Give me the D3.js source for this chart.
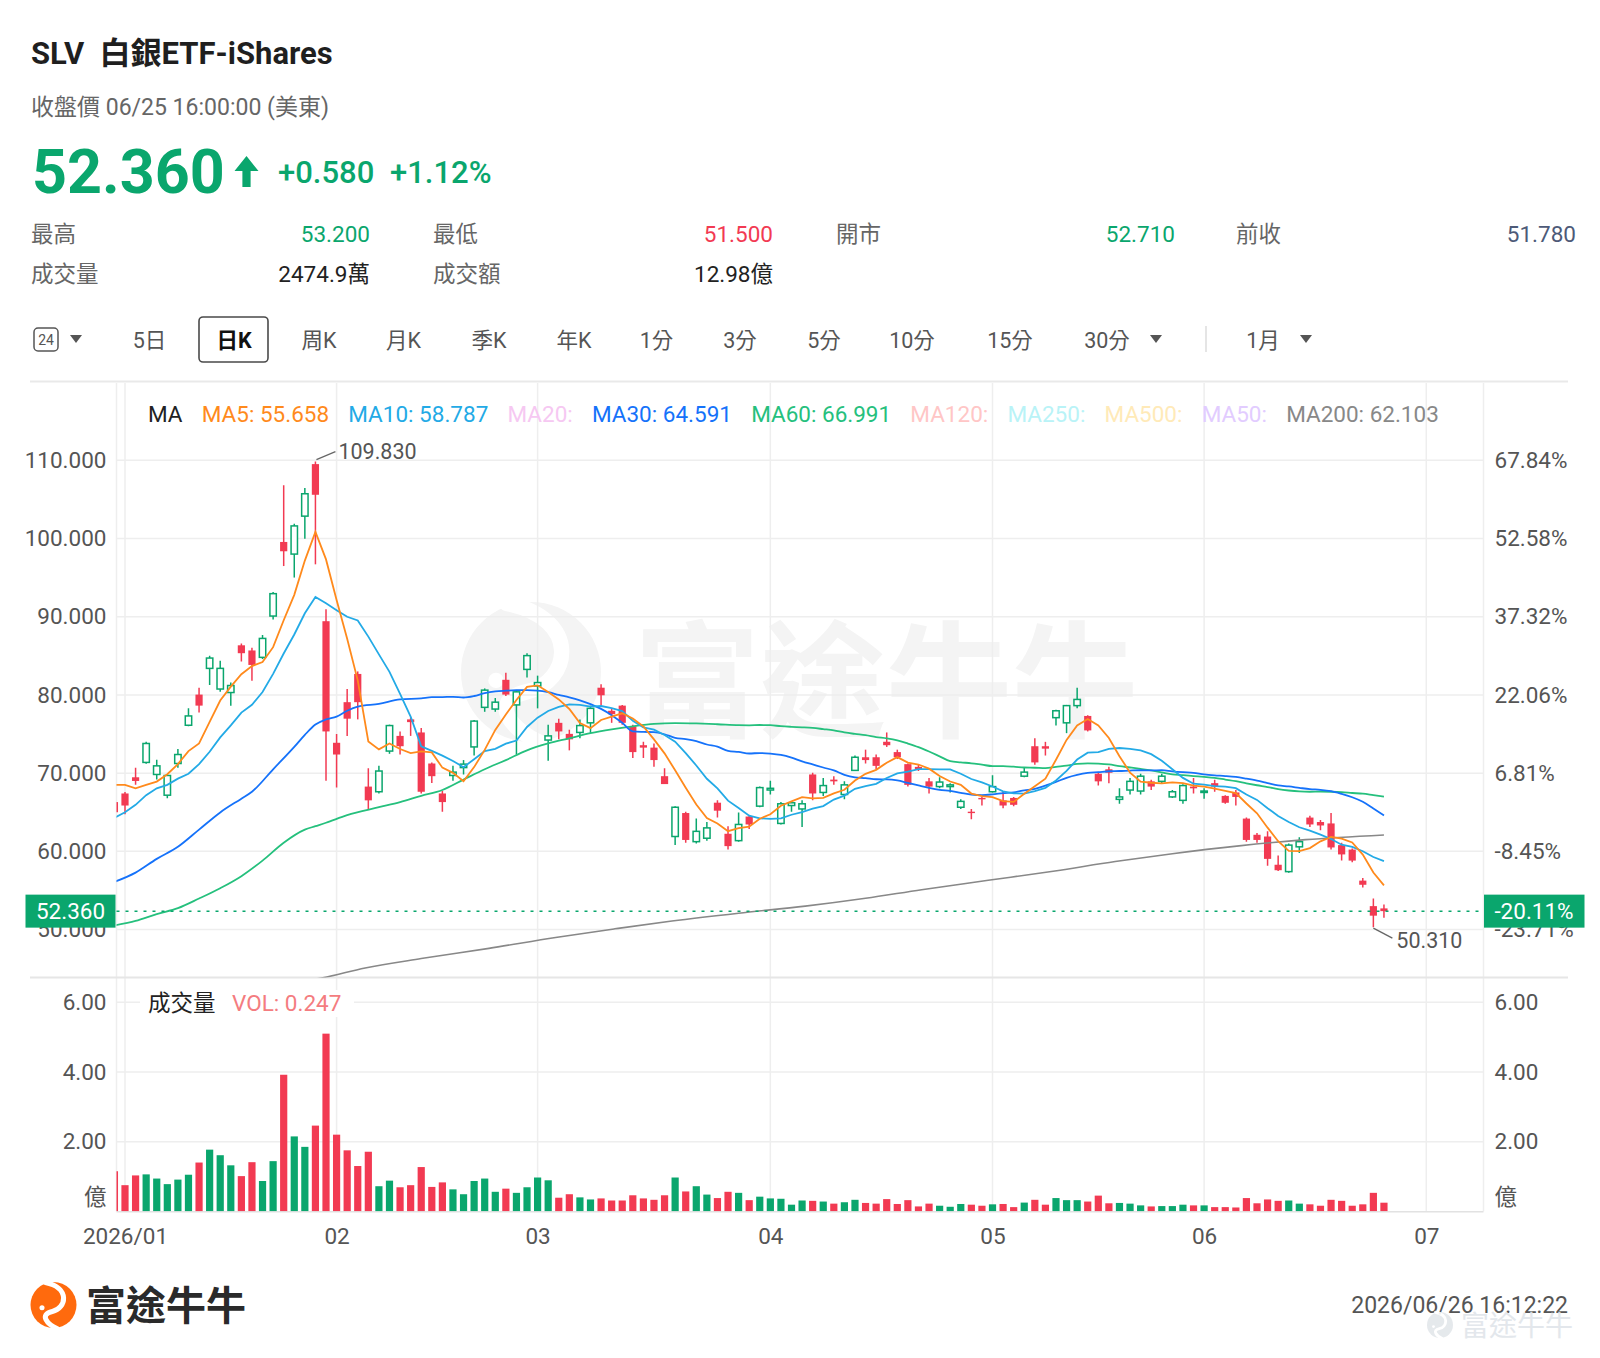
<!DOCTYPE html>
<html lang="zh-Hant"><head><meta charset="utf-8"><title>SLV 白銀ETF-iShares</title>
<script src="https://cdn.jsdelivr.net/npm/d3@7/dist/d3.min.js"></script>
<style>html,body{margin:0;padding:0;background:#fff}svg{display:block}</style>
</head><body>
<svg id="chart" width="1600" height="1358" xmlns="http://www.w3.org/2000/svg"></svg>
<script>
// ---------------- DATA ----------------
const firstIndex = -1; // first (clipped) candle is the last session of 2025
const opens = [
 66.3, 67.4, 69.47, 71.37, 69.83, 67.18, 71.23, 76.12, 80.04, 83.39,
 80.75, 80.3, 86.34, 85.68, 84.8, 90.08, 99.55, 98.0, 102.85, 109.5,
 89.42, 73.88, 79.07, 82.68, 68.28, 67.62, 72.82, 74.76, 76.87, 75.2,
 71.23, 67.4, 69.7, 70.71, 73.35, 78.41, 78.19, 81.93, 78.72, 83.26,
 81.14, 74.23, 76.43, 75.02, 75.2, 76.43, 80.92, 77.97, 78.63, 75.99,
 73.57, 73.26, 69.61, 61.9, 64.9, 61.24, 61.68, 66.22, 62.25, 61.37,
 64.45, 65.78, 67.84, 63.57, 65.86, 65.42, 69.83, 67.53, 69.17, 67.27,
 70.35, 72.03, 72.03, 74.01, 72.69, 71.15, 70.8, 68.95, 68.28, 68.28,
 65.64, 65.07, 66.83, 67.62, 66.52, 66.83, 69.61, 73.44, 73.44, 77.09,
 76.43, 78.63, 77.31, 69.92, 70.49, 66.65, 67.84, 67.71, 68.95, 68.95,
 66.96, 66.52, 68.28, 67.53, 68.72, 67.09, 67.53, 64.19, 62.12, 61.9,
 58.29, 57.41, 60.58, 64.32, 63.75, 63.57, 60.8, 60.23, 56.26, 53.0,
 52.71];
const highs = [
 66.6, 67.6, 70.7, 74.0, 71.7, 69.8, 73.1, 78.28, 80.9, 85.0,
 84.36, 81.58, 86.56, 86.03, 87.66, 93.16, 106.8, 101.88, 106.46, 109.83,
 90.96, 75.0, 80.75, 83.0, 70.62, 70.93, 76.2, 75.33, 77.09, 75.77,
 71.37, 67.71, 70.93, 71.67, 76.78, 80.83, 79.6, 82.82, 80.61, 85.33,
 82.46, 76.2, 76.96, 75.55, 76.87, 78.63, 81.36, 78.28, 78.72, 76.2,
 74.01, 73.79, 70.62, 65.78, 65.07, 64.19, 63.75, 66.52, 63.22, 64.98,
 64.63, 68.28, 69.03, 66.3, 66.3, 66.52, 70.05, 69.39, 69.61, 68.95,
 72.25, 73.0, 72.38, 75.2, 73.0, 71.23, 71.15, 69.39, 69.47, 68.72,
 66.65, 65.42, 66.96, 69.74, 67.62, 66.96, 70.71, 74.45, 74.0, 78.1,
 78.72, 80.92, 77.4, 70.05, 70.8, 68.06, 69.39, 69.92, 69.17, 69.92,
 67.84, 68.59, 69.39, 68.06, 69.17, 67.18, 67.84, 64.32, 62.34, 62.56,
 59.48, 61.02, 61.81, 64.54, 64.01, 64.9, 61.11, 60.36, 56.61, 53.97,
 53.2];
const lows = [
 64.6, 64.75, 68.5, 71.2, 69.2, 66.8, 70.7, 76.0, 77.75, 81.27,
 80.4, 78.6, 84.27, 81.8, 84.58, 89.64, 96.47, 95.0, 99.95, 96.69,
 69.03, 68.15, 74.76, 76.87, 65.3, 67.4, 72.47, 72.38, 74.76, 67.4,
 68.73, 65.07, 69.03, 69.83, 72.25, 77.84, 77.84, 79.86, 72.38, 82.24,
 78.28, 71.59, 74.32, 72.91, 74.45, 75.11, 78.63, 76.43, 76.2, 71.94,
 71.94, 70.8, 68.6, 60.8, 61.11, 61.02, 61.37, 64.32, 60.23, 61.24,
 62.87, 65.64, 67.27, 63.44, 65.07, 63.13, 66.52, 67.09, 68.5, 66.65,
 70.27, 71.23, 70.49, 73.35, 71.8, 68.28, 70.27, 67.4, 68.06, 67.53,
 65.42, 64.1, 65.86, 67.53, 65.51, 65.78, 69.47, 71.06, 72.25, 76.08,
 75.11, 78.28, 75.33, 68.41, 68.72, 66.08, 67.27, 67.27, 67.84, 68.72,
 66.83, 66.08, 67.4, 66.74, 67.62, 66.08, 65.86, 61.24, 61.11, 58.16,
 57.5, 57.28, 59.78, 63.13, 62.69, 60.23, 58.82, 58.6, 55.38, 50.31,
 51.5];
const closes = [
 65.0, 65.86, 69.0, 73.79, 70.93, 69.7, 72.38, 77.31, 78.63, 84.71,
 83.39, 81.2, 85.33, 83.83, 87.22, 92.94, 98.36, 101.6, 105.71, 105.58,
 75.33, 72.38, 76.96, 79.07, 66.52, 70.27, 76.08, 73.44, 76.52, 67.62,
 69.61, 66.3, 70.13, 71.15, 76.65, 80.61, 79.07, 80.04, 80.39, 85.02,
 81.58, 74.76, 75.33, 74.32, 76.08, 78.28, 79.95, 77.53, 76.43, 72.69,
 73.26, 71.67, 68.6, 65.64, 61.46, 62.56, 63.0, 65.2, 60.67, 63.44,
 63.44, 68.15, 68.06, 66.08, 66.21, 66.08, 67.4, 68.41, 68.95, 68.5,
 72.03, 71.67, 70.93, 73.57, 72.03, 68.5, 70.49, 68.28, 68.86, 68.5,
 66.39, 64.9, 66.65, 68.28, 65.86, 65.95, 70.13, 71.37, 73.13, 77.97,
 78.63, 79.42, 75.46, 68.95, 70.05, 66.96, 68.95, 69.61, 68.28, 69.61,
 67.62, 68.41, 68.06, 67.71, 68.28, 66.21, 66.96, 61.46, 61.46, 59.04,
 57.59, 60.8, 61.24, 63.44, 63.31, 60.5, 59.61, 58.82, 55.73, 51.78,
 52.36];
// volume in 億 (100 million shares)
const volumes = [
 1.15, 0.75, 1.03, 1.06, 0.94, 0.78, 0.91, 1.05, 1.40, 1.77,
 1.61, 1.32, 1.01, 1.41, 0.87, 1.44, 3.92, 2.15, 1.85, 2.46,
 5.10, 2.20, 1.75, 1.30, 1.71, 0.72, 0.88, 0.69, 0.75, 1.27,
 0.70, 0.83, 0.63, 0.49, 0.87, 0.94, 0.56, 0.65, 0.53, 0.69,
 0.97, 0.89, 0.39, 0.49, 0.40, 0.34, 0.37, 0.31, 0.31, 0.46,
 0.37, 0.33, 0.46, 0.97, 0.57, 0.72, 0.48, 0.38, 0.56, 0.53,
 0.32, 0.42, 0.37, 0.36, 0.19, 0.31, 0.30, 0.28, 0.22, 0.26,
 0.33, 0.24, 0.22, 0.35, 0.21, 0.32, 0.14, 0.22, 0.16, 0.13,
 0.21, 0.19, 0.16, 0.20, 0.21, 0.12, 0.25, 0.33, 0.19, 0.38,
 0.32, 0.32, 0.28, 0.45, 0.23, 0.24, 0.22, 0.17, 0.14, 0.15,
 0.15, 0.19, 0.17, 0.17, 0.12, 0.12, 0.11, 0.38, 0.23, 0.34,
 0.30, 0.31, 0.22, 0.20, 0.16, 0.33, 0.30, 0.16, 0.20, 0.53,
 0.247];
// moving-average lines, values (one per candle from firstIndex)
const ma5 = [
 68.5, 68.5, 68.06, 68.5, 68.92, 69.86, 71.16, 72.82, 73.79, 76.55,
 79.28, 81.05, 82.65, 83.69, 84.19, 86.10, 89.54, 92.79, 97.17, 100.84,
 97.32, 92.12, 87.19, 81.86, 74.05, 73.04, 73.78, 73.08, 72.57, 72.79,
 72.65, 70.70, 70.04, 68.96, 70.77, 72.97, 75.52, 77.50, 79.35, 81.03,
 81.22, 80.36, 79.42, 78.20, 76.41, 75.75, 76.79, 77.23, 77.65, 76.98,
 75.97, 74.32, 72.53, 70.37, 68.13, 65.99, 64.25, 63.57, 62.58, 62.97,
 63.15, 64.18, 64.75, 65.83, 66.39, 66.92, 66.77, 66.84, 67.41, 67.87,
 69.06, 69.91, 70.42, 71.34, 72.05, 71.34, 71.10, 70.57, 69.63, 68.93,
 68.50, 67.39, 67.06, 66.94, 66.42, 66.33, 67.37, 68.32, 69.29, 71.71,
 74.25, 76.10, 76.92, 76.09, 74.50, 72.17, 70.07, 68.90, 68.77, 68.68,
 68.81, 68.71, 68.40, 68.28, 68.02, 67.73, 67.44, 66.12, 64.87, 63.03,
 61.30, 60.07, 60.03, 60.42, 61.28, 61.86, 61.62, 61.14, 59.59, 57.29,
 55.66];
const ma10 = [
 64.3, 65.0, 65.95, 67.18, 68.06, 68.5, 69.3, 69.92, 71.15, 72.73,
 74.57, 76.10, 77.74, 78.74, 80.37, 82.69, 85.29, 87.72, 90.43, 92.52,
 91.71, 90.83, 89.99, 89.52, 87.45, 85.18, 82.95, 80.13, 77.22, 73.42,
 72.85, 72.24, 71.56, 70.76, 71.78, 72.81, 73.11, 73.77, 74.16, 75.90,
 77.09, 77.94, 78.46, 78.78, 78.72, 78.49, 78.58, 78.32, 77.93, 76.70,
 75.86, 75.55, 74.88, 74.01, 72.55, 70.98, 69.28, 68.05, 66.48, 65.55,
 64.57, 64.22, 64.16, 64.21, 64.68, 65.03, 65.47, 65.79, 66.62, 67.13,
 67.99, 68.34, 68.63, 69.38, 69.96, 70.20, 70.51, 70.50, 70.49, 70.49,
 69.92, 69.25, 68.82, 68.29, 67.67, 67.42, 67.38, 67.69, 68.12, 69.06,
 70.29, 71.74, 72.62, 72.69, 73.11, 73.21, 73.09, 72.91, 72.43, 71.59,
 70.49, 69.39, 68.65, 68.53, 68.35, 68.27, 68.08, 67.26, 66.58, 65.52,
 64.52, 63.76, 63.08, 62.65, 62.15, 61.58, 60.85, 60.58, 60.01, 59.28,
 58.76];
// [candle index, value]
const ma30Early = [[-1,56.09],[1,57.28],[3,59.04],[5,60.58],[7,62.78],[9,64.98],[11,66.74],[12,67.62],[14,70.49],[16,73.35],[17,74.89],[18,76.21],[19,76.87],[20,77.22],[21,77.97],[22,78.5],[24,78.85],[26,79.42]];
const ma30Start = 28;
const ma30 = [
 79.56, 79.71, 79.72, 79.76, 79.67, 79.86, 80.23, 80.45, 80.54, 80.60,
 80.61, 80.55, 80.34, 80.00, 79.69, 79.31, 78.83, 78.21, 77.41, 76.43,
 75.34, 75.27, 75.24, 74.97, 74.52, 74.35, 74.09, 73.66, 73.38, 72.85,
 72.71, 72.51, 72.57, 72.50, 72.33, 71.98, 71.50, 71.11, 70.72, 70.34,
 69.79, 69.47, 69.37, 69.22, 69.20, 69.06, 68.74, 68.42, 68.11, 67.86,
 67.72, 67.49, 67.27, 67.20, 67.29, 67.44, 67.55, 67.79, 67.99, 68.41,
 68.89, 69.40, 69.77, 70.02, 70.12, 70.24, 70.27, 70.33, 70.37, 70.34,
 70.38, 70.23, 70.12, 70.03, 69.83, 69.71, 69.63, 69.51, 69.29, 69.04,
 68.73, 68.43, 68.30, 68.12, 67.95, 67.87, 67.69, 67.34, 66.92, 66.34,
 65.47, 64.59];
const ma60Early = [[-1,50.54],[1,51.11],[3,51.99],[5,52.74],[7,53.97],[9,55.29],[11,56.83],[13,58.82],[15,61.11],[17,62.78],[18,63.22],[19,63.66],[21,64.63],[24,65.64],[26,66.3],[28,67.09],[30,67.84],[32,69.17],[34,70.49],[36,71.67],[38,72.91],[40,73.79],[42,74.45],[44,75.11],[46,75.6],[48,75.99],[50,76.3],[52,76.4],[54,76.35],[56,76.25]];
const ma60Start = 58;
const ma60 = [
 76.13, 76.11, 76.15, 76.13, 76.00, 75.92, 75.86, 75.78, 75.63, 75.47,
 75.20, 75.01, 74.85, 74.61, 74.44, 74.19, 73.78, 73.32, 72.76, 72.15,
 71.53, 71.38, 71.26, 71.08, 70.90, 70.89, 70.82, 70.72, 70.69, 70.63,
 70.80, 70.95, 71.17, 71.26, 71.22, 71.11, 70.89, 70.72, 70.54, 70.34,
 70.09, 69.85, 69.75, 69.63, 69.52, 69.39, 69.18, 68.97, 68.70, 68.45,
 68.22, 67.96, 67.78, 67.66, 67.62, 67.65, 67.62, 67.56, 67.46, 67.37,
 67.18, 66.99];
const ma200Pts = [[16,43.2],[18.7,43.85],[22.7,45.1],[28,46.3],[34.4,47.6],[40.7,49.0],[46.3,50.1],[51.7,51.1],[58,52.1],[64.3,53.0],[70,54.0],[75.3,55.1],[81.6,56.3],[87.9,57.5],[93.6,58.7],[99,59.7],[105.3,60.7],[111.6,61.5],[119,62.1]];

const priceTicks = [50, 60, 70, 80, 90, 100, 110];
const volTicks = [0, 2, 4, 6];
const pctBase = 65.54;
const lastPrice = 52.36;
const monthTickIdx = [0, 20, 39, 61, 82, 102, 123];
const monthLabels = ["2026/01", "02", "03", "04", "05", "06", "07"];
const maLegendLabels = ["MA", "MA5: 55.658", "MA10: 58.787", "MA20:", "MA30: 64.591", "MA60: 66.991", "MA120:", "MA250:", "MA500:", "MA50:", "MA200: 62.103"];
const maLegendColors = ["#222222", "#FF8A1C", "#23AAE6", "#F6C8F2", "#1572FA", "#25C07D", "#FFC6C6", "#B9F3F7", "#FFEAB8", "#E2CCFF", "#888888"];
const toolbarLabels = ["5日", "日K", "周K", "月K", "季K", "年K", "1分", "3分", "5分", "10分", "15分", "30分", "1月"];
const toolbarX = [149.5, 234, 319, 403.5, 489, 574, 656.5, 740, 824, 912, 1010, 1107, 1263];

// ---------------- DRAW ----------------
const FONT = 'Roboto, "Noto Sans CJK TC", "Noto Sans CJK SC", "Noto Sans", sans-serif';
const UP = '#0AA66D', DOWN = '#F23A52';
const AX = '#555555';
const svg = d3.select('#chart').attr('font-family', FONT);
svg.append('rect').attr('width', 1600).attr('height', 1358).attr('fill', '#fff');

const P = {left: 116.5, right: 1483.5, top: 383, priceBottom: 977.6, volBottom: 1211.3};
const x = d3.scaleLinear().domain([0, 102]).range([125, 1204.1]);
const y = d3.scaleLinear().domain([50, 110]).range([929.6, 460.2]);
const yv = d3.scaleLinear().domain([0, 6]).range([1211.3, 1002.3]);

const candles = opens.map((o, k) => ({i: k + firstIndex, o, h: highs[k], l: lows[k], c: closes[k], v: volumes[k], up: closes[k] >= o}));

const defs = svg.append('defs');
defs.append('clipPath').attr('id', 'clipPrice').append('rect')
  .attr('x', P.left).attr('y', P.top).attr('width', P.right - P.left).attr('height', P.priceBottom - P.top);
defs.append('clipPath').attr('id', 'clipVol').append('rect')
  .attr('x', P.left).attr('y', P.priceBottom).attr('width', P.right - P.left).attr('height', P.volBottom - P.priceBottom);

// logo helper
function logo(g, cx, cy, r, fill, cut) {
  g.append('circle').attr('cx', cx).attr('cy', cy).attr('r', r).attr('fill', fill);
  g.append('path')
    .attr('d', `M${cx - r * 0.35},${cy - r * 0.98} C${cx + r * 0.75},${cy - r * 0.75} ${cx + r * 0.55},${cy + r * 0.15} ${cx - r * 0.05},${cy + r * 0.28} S${cx - r * 0.25},${cy + r * 0.85} ${cx + r * 0.15},${cy + r * 1.02}`)
    .attr('fill', 'none').attr('stroke', cut).attr('stroke-width', r * 0.22).attr('stroke-linecap', 'round');
  g.append('circle').attr('cx', cx - r * 0.5).attr('cy', cy + r * 0.12).attr('r', r * 0.11).attr('fill', cut);
}

// watermark
const wm = svg.append('g');
logo(wm, 531, 672, 70, '#f4f4f4', '#ffffff');
wm.append('text').attr('x', 634).attr('y', 728).attr('font-size', 126).attr('font-weight', 700)
  .attr('fill', '#f4f4f4').text('富途牛牛');

// grid
const grid = svg.append('g').attr('stroke', '#eeeeee').attr('stroke-width', 1.5);
grid.selectAll('line.h').data(priceTicks).join('line')
  .attr('x1', P.left).attr('x2', P.right).attr('y1', d => y(d)).attr('y2', d => y(d));
grid.selectAll('line.hv').data(volTicks.filter(d => d > 0)).join('line')
  .attr('x1', P.left).attr('x2', P.right).attr('y1', d => yv(d)).attr('y2', d => yv(d));
grid.selectAll('line.v').data(monthTickIdx).join('line')
  .attr('x1', d => x(d)).attr('x2', d => x(d)).attr('y1', P.top).attr('y2', P.volBottom);
grid.append('line').attr('x1', P.left).attr('x2', P.left).attr('y1', P.top).attr('y2', P.volBottom);
grid.append('line').attr('x1', P.right).attr('x2', P.right).attr('y1', P.top).attr('y2', P.volBottom);

// top separator & price/volume separator
svg.append('line').attr('x1', 30).attr('x2', 1568).attr('y1', 381.5).attr('y2', 381.5).attr('stroke', '#e9e9e9').attr('stroke-width', 2);
svg.append('line').attr('x1', 30).attr('x2', 1568).attr('y1', P.priceBottom).attr('y2', P.priceBottom).attr('stroke', '#e6e6e6').attr('stroke-width', 2);
svg.append('line').attr('x1', P.left).attr('x2', P.right).attr('y1', P.volBottom + 0.5).attr('y2', P.volBottom + 0.5).attr('stroke', '#e2e2e2').attr('stroke-width', 1.5);

// MA legend
{
  let cx = 148;
  const lg = svg.append('g').attr('font-size', 22.5);
  maLegendLabels.forEach((t, k) => {
    const el = lg.append('text').attr('x', cx).attr('y', 414).attr('dominant-baseline', 'central')
      .attr('fill', maLegendColors[k]).text(t);
    cx += el.node().getComputedTextLength() + 19.2;
  });
}

// candles
const cg = svg.append('g').attr('clip-path', 'url(#clipPrice)');
cg.selectAll('line.wick').data(candles).join('line')
  .attr('x1', d => x(d.i)).attr('x2', d => x(d.i))
  .attr('y1', d => y(d.h)).attr('y2', d => y(d.l))
  .attr('stroke', d => d.up ? UP : DOWN).attr('stroke-width', 1.5);
cg.selectAll('rect.body').data(candles).join('rect')
  .attr('x', d => x(d.i) - (d.up ? 3.2 : 3.6))
  .attr('width', d => d.up ? 6.4 : 7.2)
  .attr('y', d => y(Math.max(d.o, d.c)))
  .attr('height', d => Math.max(1.4, Math.abs(y(d.o) - y(d.c))))
  .attr('fill', d => d.up ? '#ffffff' : DOWN)
  .attr('stroke', d => d.up ? UP : 'none').attr('stroke-width', 1.5);

// MA lines
const lineG = svg.append('g').attr('clip-path', 'url(#clipPrice)').attr('fill', 'none').attr('stroke-width', 1.8);
const lin = d3.line().x(d => x(d[0])).y(d => y(d[1]));
const smooth = d3.line().x(d => x(d[0])).y(d => y(d[1])).curve(d3.curveMonotoneX);
const pts = (arr, start) => arr.map((v, k) => [k + start, v]);
lineG.append('path').attr('d', smooth(ma200Pts)).attr('stroke', '#888888').attr('stroke-width', 1.6);
lineG.append('path').attr('d', smooth(ma60Early.concat(pts(ma60, ma60Start)))).attr('stroke', '#25C07D');
lineG.append('path').attr('d', smooth(ma30Early.concat(pts(ma30, ma30Start)))).attr('stroke', '#1572FA');
lineG.append('path').attr('d', lin(pts(ma10, firstIndex))).attr('stroke', '#23AAE6');
lineG.append('path').attr('d', lin(pts(ma5, firstIndex))).attr('stroke', '#FF8A1C');

// last price dashed line
svg.append('line').attr('x1', P.left).attr('x2', P.right).attr('y1', y(lastPrice)).attr('y2', y(lastPrice))
  .attr('stroke', UP).attr('stroke-width', 1.5).attr('stroke-dasharray', '3,6');

// high / low annotations
{
  const hiK = highs.indexOf(d3.max(highs)), loK = lows.indexOf(d3.min(lows));
  const hi = candles[hiK], lo = candles[loK];
  const ag = svg.append('g').attr('font-size', 21.5).attr('fill', AX);
  ag.append('line').attr('x1', x(hi.i) + 1).attr('y1', y(hi.h) - 2).attr('x2', x(hi.i) + 20).attr('y2', y(hi.h) - 10)
    .attr('stroke', '#666').attr('stroke-width', 1.3);
  ag.append('text').attr('x', x(hi.i) + 23).attr('y', y(hi.h) - 10).attr('dominant-baseline', 'central').text(hi.h.toFixed(3));
  ag.append('line').attr('x1', x(lo.i)).attr('y1', y(lo.l) + 1).attr('x2', x(lo.i) + 19).attr('y2', y(lo.l) + 11)
    .attr('stroke', '#666').attr('stroke-width', 1.3);
  ag.append('text').attr('x', x(lo.i) + 23).attr('y', y(lo.l) + 13).attr('dominant-baseline', 'central').text(lo.l.toFixed(3));
}

// axes (price)
function styleAxis(g) {
  g.select('.domain').remove();
  g.attr('font-family', FONT).attr('font-size', 22.5);
  g.selectAll('text').attr('fill', AX);
}
svg.append('g').attr('transform', `translate(${P.left},0)`)
  .call(d3.axisLeft(y).tickValues(priceTicks).tickFormat(d3.format('.3f')).tickSize(0).tickPadding(10))
  .call(styleAxis);
svg.append('g').attr('transform', `translate(${P.right},0)`)
  .call(d3.axisRight(y).tickValues(priceTicks).tickFormat(d => ((d / pctBase - 1) * 100).toFixed(2) + '%').tickSize(0).tickPadding(11))
  .call(styleAxis);

// price tags
{
  const yy = y(lastPrice);
  svg.append('rect').attr('x', 25.5).attr('y', yy - 16.5).attr('width', 90).attr('height', 33).attr('fill', UP);
  svg.append('text').attr('x', 70.5).attr('y', yy).attr('text-anchor', 'middle').attr('dominant-baseline', 'central')
    .attr('font-size', 22.5).attr('fill', '#fff').text(lastPrice.toFixed(3));
  svg.append('rect').attr('x', 1484).attr('y', yy - 16.5).attr('width', 100.5).attr('height', 33).attr('fill', UP);
  svg.append('text').attr('x', 1534).attr('y', yy).attr('text-anchor', 'middle').attr('dominant-baseline', 'central')
    .attr('font-size', 22.5).attr('fill', '#fff').text(((lastPrice / pctBase - 1) * 100).toFixed(2) + '%');
}

// volume bars
const vg = svg.append('g').attr('clip-path', 'url(#clipVol)');
vg.selectAll('rect').data(candles).join('rect')
  .attr('x', d => x(d.i) - 3.6).attr('width', 7.2)
  .attr('y', d => yv(d.v)).attr('height', d => yv(0) - yv(d.v))
  .attr('fill', d => d.up ? UP : DOWN);

// volume legend
svg.append('rect').attr('x', 140).attr('y', 990).attr('width', 214).attr('height', 27).attr('fill', '#fff');
svg.append('text').attr('x', 148).attr('y', 1003).attr('dominant-baseline', 'central').attr('font-size', 22.5).attr('fill', '#222').text('成交量');
svg.append('text').attr('x', 232).attr('y', 1003).attr('dominant-baseline', 'central').attr('font-size', 22.5).attr('fill', '#F47C80')
  .text('VOL: ' + volumes[volumes.length - 1].toFixed(3));

// volume axes
const volFmt = d => d === 0 ? '億' : d.toFixed(2);
svg.append('g').attr('transform', `translate(${P.left},0)`)
  .call(d3.axisLeft(yv).tickValues(volTicks).tickFormat(volFmt).tickSize(0).tickPadding(10))
  .call(styleAxis)
  .call(g => g.selectAll('.tick').filter(d => d === 0).select('text').attr('dy', '-0.3em'));
svg.append('g').attr('transform', `translate(${P.right},0)`)
  .call(d3.axisRight(yv).tickValues(volTicks).tickFormat(volFmt).tickSize(0).tickPadding(11))
  .call(styleAxis)
  .call(g => g.selectAll('.tick').filter(d => d === 0).select('text').attr('dy', '-0.3em'));

// x axis
svg.append('g').attr('transform', `translate(0,${P.volBottom})`)
  .call(d3.axisBottom(x).tickValues(monthTickIdx).tickFormat((d, k) => monthLabels[k]).tickSize(0).tickPadding(17))
  .call(styleAxis);

// ---------------- HEADER ----------------
const hd = svg.append('g');
hd.append('text').attr('x', 31).attr('y', 64).attr('font-size', 31).attr('font-weight', 700).attr('fill', '#1f1f1f')
  .attr('xml:space', 'preserve').text('SLV  白銀ETF-iShares');
hd.append('text').attr('x', 31).attr('y', 115).attr('font-size', 23).attr('fill', '#666').text('收盤價 06/25 16:00:00 (美東)');
hd.append('text').attr('x', 32).attr('y', 193).attr('font-size', 61).attr('font-weight', 700).attr('fill', UP).text('52.360');
hd.append('path').attr('d', 'M246.5,156 L258.5,171 L250.6,171 L250.6,187 L242.4,187 L242.4,171 L234.5,171 Z').attr('fill', UP);
hd.append('text').attr('x', 278).attr('y', 183).attr('font-size', 31).attr('font-weight', 500).attr('fill', UP).text('+0.580');
hd.append('text').attr('x', 390).attr('y', 183).attr('font-size', 31).attr('font-weight', 500).attr('fill', UP).text('+1.12%');

const statLabels = [['最高', 31, 242], ['最低', 433, 242], ['開市', 836, 242], ['前收', 1236, 242], ['成交量', 31, 281.5], ['成交額', 433, 281.5]];
const statValues = [['53.200', 370, 242, UP], ['51.500', 773, 242, DOWN], ['52.710', 1175, 242, UP], ['51.780', 1576, 242, '#4D5A78'], ['2474.9萬', 370, 281.5, '#222'], ['12.98億', 773, 281.5, '#222']];
statLabels.forEach(([t, xx, yy]) => hd.append('text').attr('x', xx).attr('y', yy).attr('font-size', 22.5).attr('fill', '#666').text(t));
statValues.forEach(([t, xx, yy, c]) => hd.append('text').attr('x', xx).attr('y', yy).attr('text-anchor', 'end').attr('font-size', 22.5).attr('fill', c).text(t));

// toolbar
const tb = svg.append('g').attr('font-size', 21.5);
tb.append('rect').attr('x', 34).attr('y', 328).attr('width', 24).attr('height', 23).attr('rx', 4).attr('fill', 'none').attr('stroke', '#555').attr('stroke-width', 1.5);
tb.append('text').attr('x', 46).attr('y', 340).attr('text-anchor', 'middle').attr('dominant-baseline', 'central').attr('font-size', 14).attr('fill', '#555').text('24');
const tri = (cx) => tb.append('path').attr('d', `M${cx - 6},${335} L${cx + 6},${335} L${cx},${343} Z`).attr('fill', '#555');
tri(76);
tb.append('rect').attr('x', 199).attr('y', 317).attr('width', 69).attr('height', 45).attr('rx', 4).attr('fill', 'none').attr('stroke', '#4a4a4a').attr('stroke-width', 1.6);
toolbarLabels.forEach((t, k) => {
  tb.append('text').attr('x', toolbarX[k]).attr('y', 340).attr('text-anchor', 'middle').attr('dominant-baseline', 'central')
    .attr('fill', t === '日K' ? '#111' : '#555').attr('font-weight', t === '日K' ? 700 : 400).text(t);
});
tri(1156); tri(1306);
tb.append('line').attr('x1', 1206).attr('x2', 1206).attr('y1', 326).attr('y2', 352).attr('stroke', '#dddddd').attr('stroke-width', 1.5);

// ---------------- FOOTER ----------------
const ft = svg.append('g');
logo(ft, 53.5, 1305, 23, '#FF6A0D', '#ffffff');
ft.append('text').attr('x', 86).attr('y', 1306).attr('dominant-baseline', 'central').attr('font-size', 40).attr('font-weight', 700).attr('fill', '#2a2a2a').text('富途牛牛');
const wm2 = svg.append('g').attr('opacity', 0.9);
logo(wm2, 1440, 1325, 13, '#e3e7eb', '#ffffff');
wm2.append('text').attr('x', 1461).attr('y', 1326).attr('dominant-baseline', 'central').attr('font-size', 28).attr('fill', '#e1e5ea').text('富途牛牛');
ft.append('text').attr('x', 1568).attr('y', 1305).attr('text-anchor', 'end').attr('dominant-baseline', 'central').attr('font-size', 23).attr('fill', '#555').text('2026/06/26 16:12:22');
</script></body></html>
